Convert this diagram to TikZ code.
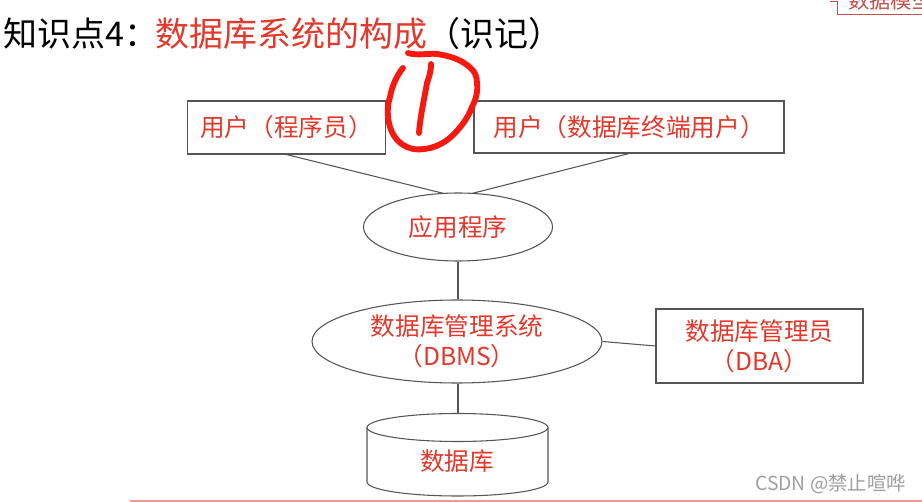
\documentclass[tikz,border=0pt]{standalone}
\usepackage{fontspec}
\setmainfont{Noto Sans CJK SC}
\definecolor{txtred}{HTML}{E2392C}
\definecolor{inkred}{HTML}{F5190F}
\definecolor{boxline}{HTML}{555555}
\definecolor{footline}{HTML}{EE9A8E}
\definecolor{corner}{HTML}{C0504D}
\tikzset{
  x=0.75pt,y=-0.75pt,
  boxnode/.style={draw=boxline,line width=0.8pt,inner sep=0pt,text=txtred,font=\fontsize{18.5}{22.5}\selectfont,align=center},
  ellnode/.style={draw=boxline,line width=0.8pt,ellipse,inner sep=0pt,text=txtred,font=\fontsize{18.5}{22.5}\selectfont,align=center},
  conn/.style={draw=boxline,line width=0.8pt},
  titletext/.style={anchor=west,inner sep=0pt,font=\fontsize{25.5}{30}\selectfont},
  inkline/.style={draw=inkred,line width=4.4pt,line cap=round,line join=round}
}
\usetikzlibrary{shapes.geometric}
\begin{document}
\begin{tikzpicture}
\useasboundingbox (0,0) rectangle (922,502);
\fill[white] (0,0) rectangle (922,502);
% top-right cut-off label
\begin{scope}
\clip (0,0) rectangle (922,502);
\draw[corner,line width=0.7pt] (830,1) -- (837,1) -- (837,14) -- (930,14);
\node[anchor=west,inner sep=0pt,text=corner,font=\fontsize{16}{20}\selectfont] (corner) at (848,0) {数据模型};
\end{scope}
% title
\node[titletext] (t1) at (3,34) {知识点4：};
\node[titletext,text=txtred] (t2) at (155,34) {数据库系统的构成};
\node[titletext,anchor=west] (t3) at (426,34) {（识记）};
% boxes and connectors
\node[boxnode,minimum width=148pt,minimum height=39.75pt] (prog) at (286.5,127.5) {用户（程序员）};
\node[boxnode,minimum width=232.5pt,minimum height=39pt] (enduser) at (629,127) {用户（数据库终端用户）};
\coordinate (meet) at (458,197);
\draw[conn] (prog.south) -- (meet);
\draw[conn] (enduser.south) -- (meet);
\node[ellnode,fill=white,minimum width=141.75pt,minimum height=51pt] (app) at (458,227) {应用程序};
\node[ellnode,minimum width=217.5pt,minimum height=62.25pt] (dbms) at (457,341.5) {数据库管理系统\\（DBMS）};
\node[boxnode,minimum width=155.25pt,minimum height=55.5pt] (dba) at (759.5,346) {数据库管理员\\（DBA）};
\draw[conn] (app.south) -- (app.south |- dbms.north);
\draw[conn] (dbms.east) -- (dba.west);
% cylinder
\coordinate (dbtop) at (458,413.5);
\draw[conn] (dbms.south -| dbtop) -- (dbtop);
\draw[conn] (457.5,427.5) ellipse [x radius=90.5,y radius=14];
\draw[conn] (367,427.5) -- (367,482) arc[start angle=180,end angle=360,x radius=90.5,y radius=-14] -- (548,427.5);
\node[inner sep=0pt,text=txtred,font=\fontsize{18.5}{22.5}\selectfont] (db) at (457,461) {数据库};
% footer rule and watermark
\draw[footline,line width=1.5pt] (130,501.5) -- (922,501.5);
\node[anchor=west,inner sep=0pt,text=gray!75,font=\fontsize{14.5}{16}\selectfont] (mark) at (755,484) {CSDN @禁止喧哗};
% hand-drawn mark
\draw[inkline] (408,53) .. controls (418,56) and (428,53) .. (437,54)
  .. controls (450,56) and (459,59) .. (467,65)
  .. controls (475,71) and (477,76) .. (477,83)
  .. controls (478,92) and (476,99) .. (472,107)
  .. controls (468,118) and (461,127) .. (453,135)
  .. controls (446,142) and (438,146) .. (430,148)
  .. controls (421,150) and (413,150) .. (407,147)
  .. controls (398,143) and (393,136) .. (390,127)
  .. controls (387,117) and (387,106) .. (390,97)
  .. controls (392,86) and (397,75) .. (403,68);
\draw[inkline] (431,64) .. controls (431,72) and (429,77) .. (427,83) .. controls (424,100) and (420,118) .. (419,133);
\end{tikzpicture}
\end{document}
